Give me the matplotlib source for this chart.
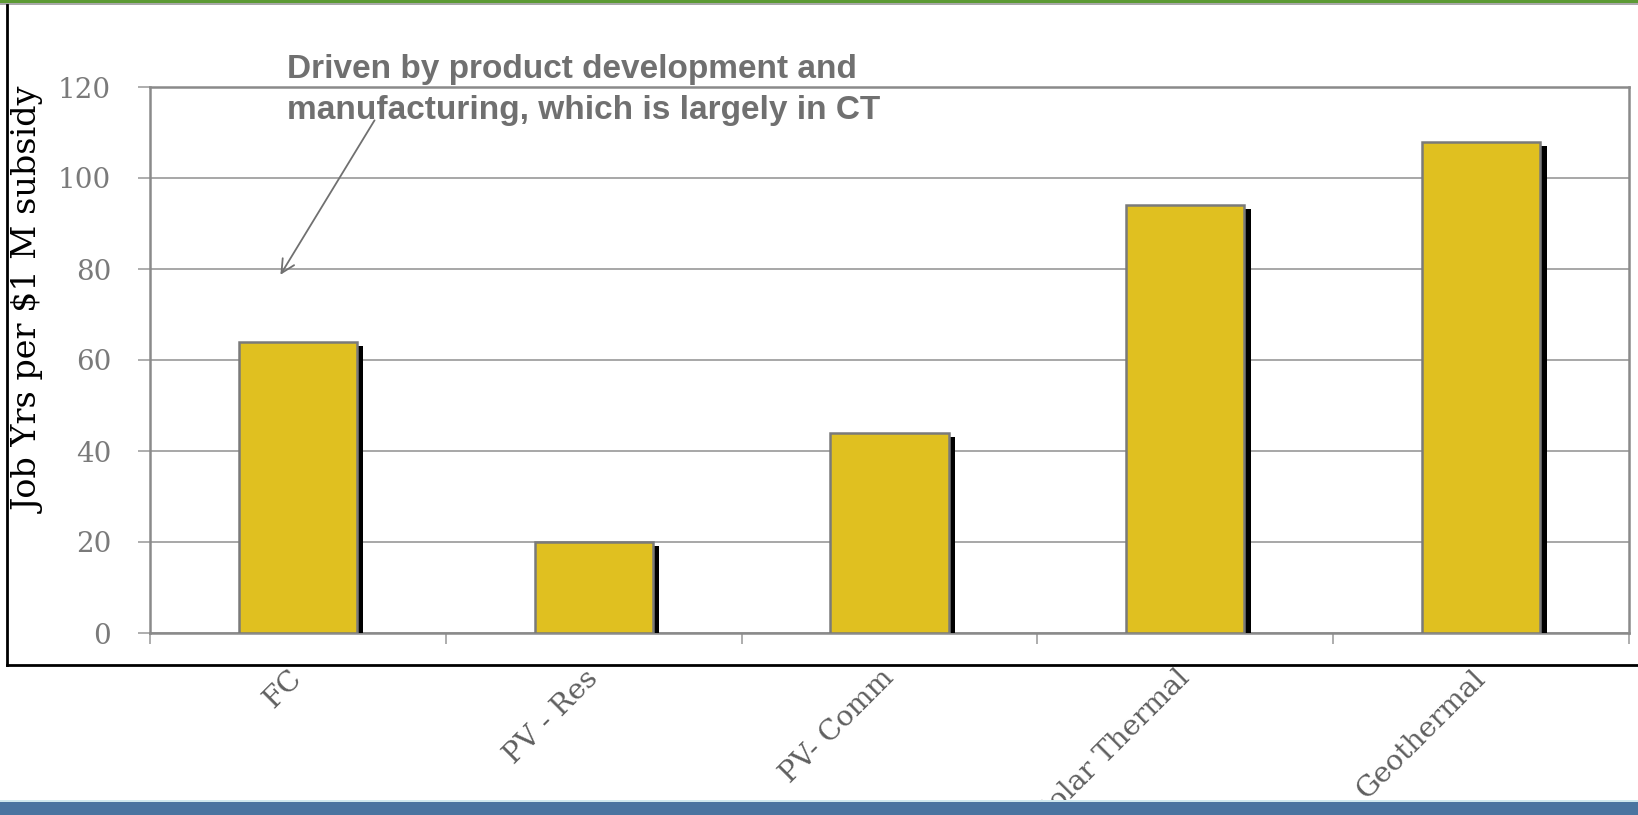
import matplotlib
matplotlib.use("Agg")
import matplotlib.pyplot as plt
import matplotlib.patheffects as pe
from matplotlib.patches import Rectangle
from matplotlib.lines import Line2D
import numpy as np

# chart data
categories = ['FC', 'PV - Res', 'PV- Comm', 'Solar Thermal', 'Geothermal']
job_years = [64, 20, 44, 94, 108]
y_ticks = [0, 20, 40, 60, 80, 100, 120]
y_label = 'Job Yrs per $1 M subsidy'
note = 'Driven by product development and\nmanufacturing, which is largely in CT'

BAR_COLOR = '#e0c020'
EDGE = '#7a7a7a'
GRID = '#a0a0a0'
SERIF = 'DejaVu Serif'

fig = plt.figure(figsize=(16.38, 8.15), dpi=100)
W, H = 1638, 815

# slide decorations: green top band, black frame, blue bottom band
fig.add_artist(Rectangle((0, 1 - 3 / H), 1, 3 / H, transform=fig.transFigure,
                         facecolor='#5c9a34', edgecolor='none'))
fig.add_artist(Rectangle((0, 1 - 5 / H), 1, 2 / H, transform=fig.transFigure,
                         facecolor='#a9a9a9', edgecolor='none'))
fig.add_artist(Line2D([7 / W, 7 / W], [1 - 5 / H, 1 - 665 / H], transform=fig.transFigure,
                      color='black', lw=2))
fig.add_artist(Line2D([7 / W, 1], [1 - 665 / H, 1 - 665 / H], transform=fig.transFigure,
                      color='black', lw=2))
fig.add_artist(Rectangle((0, 0), 1, 13 / H, transform=fig.transFigure,
                         facecolor='#4a74a0', edgecolor='none', zorder=5))
fig.add_artist(Rectangle((0, 13 / H), 1, 2 / H, transform=fig.transFigure,
                         facecolor='#cfe8ee', edgecolor='none', zorder=5))

ax = fig.add_axes([150 / W, 1 - 633 / H, 1479 / W, 546 / H])

x = np.arange(len(categories))
ax.bar(x, job_years, width=0.4, color=BAR_COLOR, edgecolor=EDGE, linewidth=1.8, zorder=3,
       path_effects=[pe.SimplePatchShadow(offset=(4.5, -3), shadow_rgbFace='black', alpha=1),
                     pe.Normal()])

ax.set_xlim(-0.5, len(categories) - 0.5)
ax.set_ylim(0, 120)
ax.set_yticks(y_ticks)
ax.set_yticklabels([str(t) for t in y_ticks], family=SERIF, fontsize=20, color='#7a7a7a')
ax.yaxis.grid(True, color=GRID, lw=1.3)
ax.set_axisbelow(True)

# category boundary ticks, labels on minor ticks at centers
ax.set_xticks(np.arange(len(categories) + 1) - 0.5)
ax.set_xticklabels([])
ax.set_xticks(x, minor=True)
ax.set_xticklabels(categories, minor=True, family=SERIF, fontsize=20.5, color='#5f5f5f',
                   rotation=45, ha='right', va='center', rotation_mode='anchor')
ax.tick_params(axis='x', which='major', length=8, width=1.2, color=GRID, direction='out')
ax.tick_params(axis='x', which='minor', length=0, pad=29.5)
ax.tick_params(axis='y', length=9, width=1.2, color=GRID, pad=19)

for s in ax.spines.values():
    s.set_color('#8a8a8a')
    s.set_linewidth(1.8)

ax.set_ylabel(y_label, family=SERIF, fontsize=24, color='black', va='center')
ax.yaxis.set_label_coords(-0.081, 0.61)

ax.text(-0.037, 119.4, note, fontsize=24, fontweight='bold', family='Liberation Sans',
        color='#707070', va='center', ha='left', linespacing=1.4, clip_on=False)
ax.annotate('', xy=(-0.064, 78.2), xytext=(0.264, 113.2),
            arrowprops=dict(arrowstyle='->', color='#707070', lw=1.3, mutation_scale=24),
            annotation_clip=False)

fig.savefig('out.png', dpi=100)
